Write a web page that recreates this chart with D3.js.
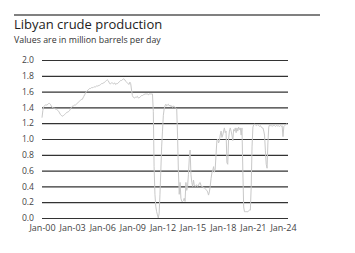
<!DOCTYPE html>
<meta charset="utf-8">
<html>
<head>
<script src="https://cdn.jsdelivr.net/npm/d3@7/dist/d3.min.js"></script>
<style>
  body { margin: 0; background: #fff; }
  text { font-family: "Open Sans", "Noto Sans", sans-serif; }
</style>
</head>
<body>
<div id="chart"></div>
<script>

// monthly production, million barrels per day, Jan-2000 onwards (one row per year)
var startYear = 2000;
var production = [
  [1.27, 1.36, 1.41, 1.42, 1.43, 1.43, 1.43, 1.44, 1.45, 1.45, 1.44, 1.42], // 2000
  [1.40, 1.40, 1.39, 1.39, 1.38, 1.38, 1.37, 1.36, 1.35, 1.33, 1.31, 1.30], // 2001
  [1.29, 1.29, 1.30, 1.31, 1.32, 1.33, 1.34, 1.34, 1.35, 1.36, 1.38, 1.40], // 2002
  [1.41, 1.42, 1.42, 1.43, 1.43, 1.44, 1.45, 1.46, 1.47, 1.48, 1.49, 1.50], // 2003
  [1.50, 1.52, 1.54, 1.56, 1.58, 1.60, 1.61, 1.62, 1.63, 1.64, 1.64, 1.65], // 2004
  [1.65, 1.65, 1.66, 1.66, 1.66, 1.67, 1.67, 1.67, 1.68, 1.68, 1.69, 1.70], // 2005
  [1.70, 1.71, 1.71, 1.72, 1.73, 1.74, 1.75, 1.74, 1.72, 1.70, 1.70, 1.71], // 2006
  [1.71, 1.70, 1.70, 1.71, 1.69, 1.70, 1.70, 1.71, 1.72, 1.73, 1.74, 1.74], // 2007
  [1.75, 1.76, 1.76, 1.75, 1.73, 1.72, 1.71, 1.70, 1.69, 1.72, 1.70, 1.62], // 2008
  [1.55, 1.53, 1.52, 1.52, 1.53, 1.53, 1.54, 1.52, 1.52, 1.53, 1.54, 1.55], // 2009
  [1.55, 1.56, 1.56, 1.57, 1.57, 1.57, 1.57, 1.56, 1.57, 1.57, 1.57, 1.57], // 2010
  [1.57, 1.35, 0.65, 0.30, 0.15, 0.08, 0.04, 0.00, 0.06, 0.30, 0.60, 0.90], // 2011
  [1.10, 1.30, 1.38, 1.42, 1.44, 1.42, 1.43, 1.44, 1.42, 1.43, 1.41, 1.42], // 2012
  [1.40, 1.42, 1.41, 1.40, 1.39, 1.38, 1.05, 0.60, 0.30, 0.45, 0.25, 0.21], // 2013
  [0.21, 0.22, 0.25, 0.21, 0.45, 0.35, 0.40, 0.55, 0.75, 0.86, 0.55, 0.45], // 2014
  [0.40, 0.48, 0.42, 0.40, 0.41, 0.42, 0.40, 0.41, 0.44, 0.45, 0.41, 0.40], // 2015
  [0.40, 0.38, 0.38, 0.37, 0.36, 0.35, 0.33, 0.29, 0.33, 0.40, 0.50, 0.57], // 2016
  [0.60, 0.65, 0.58, 0.62, 0.80, 0.98, 1.00, 0.95, 0.98, 1.05, 1.10, 1.02], // 2017
  [1.05, 1.10, 1.14, 1.08, 1.10, 0.70, 0.68, 1.00, 1.10, 1.14, 1.10, 1.05], // 2018
  [0.98, 1.12, 1.10, 1.14, 1.08, 1.14, 1.10, 1.15, 1.12, 1.14, 1.05, 1.14], // 2019
  [0.60, 0.14, 0.08, 0.08, 0.08, 0.08, 0.08, 0.09, 0.10, 0.10, 0.40, 0.90], // 2020
  [1.15, 1.18, 1.19, 1.18, 1.17, 1.18, 1.18, 1.17, 1.16, 1.17, 1.15, 1.14], // 2021
  [1.14, 1.10, 1.05, 0.85, 0.68, 0.63, 0.95, 1.15, 1.18, 1.17, 1.17, 1.16], // 2022
  [1.17, 1.17, 1.17, 1.16, 1.17, 1.17, 1.16, 1.17, 1.16, 1.17, 1.16, 1.17], // 2023
  [1.03, 1.16, 1.17, 1.18, 1.19, 1.19]                                      // 2024
];
var yTicks = [0, 0.2, 0.4, 0.6, 0.8, 1.0, 1.2, 1.4, 1.6, 1.8, 2.0];
var xTickYears = [2000, 2003, 2006, 2009, 2012, 2015, 2018, 2021, 2024];
var title = "Libyan crude production";
var subtitle = "Values are in million barrels per day";

// flatten the yearly rows into dated points
var data = [];
production.forEach(function(row, i) {
  row.forEach(function(v, m) {
    data.push({date: new Date(startYear + i, m, 1), value: v});
  });
});

var W = 355, H = 253;
var svg = d3.select("#chart").append("svg")
  .attr("width", W)
  .attr("height", H);

// top rule
svg.append("line")
  .attr("x1", 14).attr("x2", 320)
  .attr("y1", 15).attr("y2", 15)
  .attr("stroke", "#808080")
  .attr("stroke-width", 2);

svg.append("text")
  .attr("x", 14).attr("y", 29)
  .style("font-size", "13px")
  .attr("fill", "#222")
  .text(title);

svg.append("text")
  .attr("x", 14).attr("y", 43)
  .style("font-size", "8.8px")
  .attr("fill", "#333")
  .text(subtitle);

var x = d3.scaleTime()
  .domain([new Date(2000, 0, 1), new Date(2024, 6, 1)])
  .range([42, 288]);

var y = d3.scaleLinear()
  .domain([0, 2])
  .range([218, 60]);

// gridlines + y labels
var yAxis = svg.append("g")
  .attr("transform", "translate(42,0)")
  .call(d3.axisLeft(y).tickValues(yTicks).tickFormat(d3.format(".1f"))
    .tickSize(-(288 - 42)).tickPadding(8));
yAxis.select(".domain").remove();
yAxis.selectAll(".tick line")
  .attr("stroke", "#333")
  .attr("stroke-width", 1.2);
yAxis.selectAll(".tick text")
  .style("font-size", "8.6px")
  .style("font-family", "'Open Sans', sans-serif")
  .attr("fill", "#444");

// x labels
var xAxis = svg.append("g")
  .attr("transform", "translate(0,218)")
  .call(d3.axisBottom(x)
    .tickValues(xTickYears.map(function(yr) { return new Date(yr, 0, 1); }))
    .tickFormat(d3.timeFormat("%b-%y"))
    .tickSize(0).tickPadding(7));
xAxis.select(".domain").remove();
xAxis.selectAll(".tick text")
  .style("font-size", "9px")
  .style("font-family", "'Open Sans', sans-serif")
  .attr("fill", "#444");

// the line
svg.append("path")
  .datum(data)
  .attr("fill", "none")
  .attr("stroke", "#c8c8c8")
  .attr("stroke-width", 1)
  .attr("stroke-linejoin", "round")
  .attr("d", d3.line()
    .x(function(d) { return x(d.date); })
    .y(function(d) { return y(d.value); }));

</script>
</body>
</html>
